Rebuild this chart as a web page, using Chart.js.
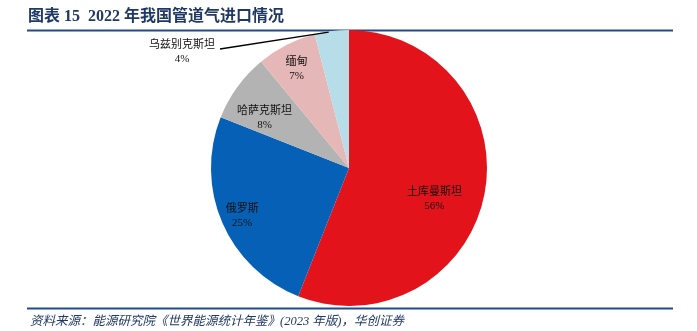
<!DOCTYPE html>
<html>
<head>
<meta charset="utf-8">
<script src="https://cdn.jsdelivr.net/npm/chart.js@4"></script>
<style>
  html, body { margin: 0; padding: 0; background: #fff; }
  #wrap { position: relative; width: 697px; height: 331px; }
</style>
</head>
<body>
<div id="wrap"><canvas id="pieChart" width="697" height="331"></canvas></div>
<script>
// data
const countries = ["土库曼斯坦", "俄罗斯", "哈萨克斯坦", "缅甸", "乌兹别克斯坦"];
const shares = [56, 25, 8, 7, 4];
const sliceColors = ["#E3131C", "#0560B6", "#B3B3B3", "#E5B8B7", "#B7DDE8"];

const NAVY = "#1F3864";
const LABEL_FONT = '11px "Liberation Serif", "Noto Sans CJK SC"';

// where each label sits: fraction of radius + angle shift (deg) from slice middle
const labelPlace = [
  { r: 0.66, shift: 9.5 },
  { r: 0.85, shift: -1 },
  { r: 0.71, shift: -5.5 },
  { r: 0.81, shift: -1 },
  null // outside, with leader line
];

const decorPlugin = {
  id: "decor",
  beforeDraw(chart) {
    const c = chart.ctx;
    c.save();
    c.fillStyle = "#fff";
    c.fillRect(0, 0, chart.width, chart.height);
    // title
    c.fillStyle = NAVY;
    c.font = 'bold 16px "Liberation Serif", "Noto Sans CJK SC"';
    c.textBaseline = "alphabetic";
    c.fillText("图表 15  2022 年我国管道气进口情况", 28, 21);
    // rules
    c.strokeStyle = "#244A8E";
    c.lineWidth = 2;
    c.beginPath();
    c.moveTo(27, 30.5); c.lineTo(673, 30.5);
    c.moveTo(27, 308.5); c.lineTo(673, 308.5);
    c.stroke();
    // source
    c.fillStyle = NAVY;
    c.font = 'italic 12.5px "Liberation Serif", "Noto Sans CJK SC"';
    c.fillText("资料来源：能源研究院《世界能源统计年鉴》(2023 年版)，华创证券", 30, 325);
    c.restore();
  },
  afterDatasetsDraw(chart) {
    const c = chart.ctx;
    const arcs = chart.getDatasetMeta(0).data;
    c.save();
    c.font = LABEL_FONT;
    c.fillStyle = "#111";
    c.textAlign = "center";
    c.textBaseline = "middle";
    arcs.forEach((arc, i) => {
      const p = arc.getProps(["x", "y", "startAngle", "endAngle", "outerRadius"], true);
      const mid = (p.startAngle + p.endAngle) / 2;
      let lx, ly;
      if (labelPlace[i]) {
        const a = mid + labelPlace[i].shift * Math.PI / 180;
        lx = p.x + Math.cos(a) * p.outerRadius * labelPlace[i].r;
        ly = p.y + Math.sin(a) * p.outerRadius * labelPlace[i].r;
      } else {
        // leader line from slice edge out to the left
        const ex = p.x + Math.cos(mid) * p.outerRadius;
        const ey = p.y + Math.sin(mid) * p.outerRadius;
        lx = 182; ly = 52;
        c.strokeStyle = "#000";
        c.lineWidth = 1.3;
        c.beginPath();
        c.moveTo(ex - 3, ey + 1);
        c.lineTo(220, 49);
        c.stroke();
      }
      c.fillText(countries[i], lx, ly - 7);
      c.fillText(shares[i] + "%", lx, ly + 7);
    });
    c.restore();
  }
};

new Chart(document.getElementById("pieChart"), {
  type: "pie",
  data: {
    labels: countries,
    datasets: [{
      data: shares,
      backgroundColor: sliceColors,
      borderWidth: 0
    }]
  },
  options: {
    responsive: false,
    animation: false,
    layout: { padding: { top: 30, bottom: 25, left: 211, right: 210 } },
    plugins: {
      legend: { display: false },
      tooltip: { enabled: false }
    }
  },
  plugins: [decorPlugin]
});
</script>
</body>
</html>
